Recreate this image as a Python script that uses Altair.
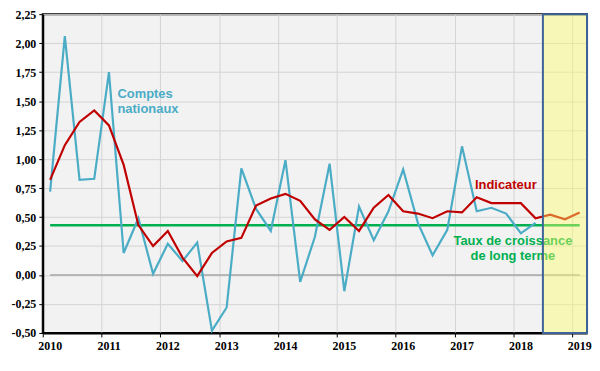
import altair as alt
import pandas as pd

# ---- data -------------------------------------------------------------
years = list(range(2010, 2020))
comptes = [0.72, 2.06, 0.82, 0.83,
           1.75, 0.19, 0.49, 0.01,
           0.27, 0.12, 0.28, -0.48,
           -0.28, 0.92, 0.57, 0.38,
           0.99, -0.06, 0.33, 0.96,
           -0.14, 0.59, 0.30, 0.55,
           0.91, 0.45, 0.17, 0.39,
           1.11, 0.55, 0.58, 0.53,
           0.36, 0.45]
indicateur = [0.82, 1.12, 1.32, 1.42,
              1.29, 0.95, 0.43, 0.25,
              0.38, 0.15, -0.01, 0.19,
              0.29, 0.32, 0.60, 0.66,
              0.70, 0.64, 0.48, 0.39,
              0.50, 0.38, 0.58, 0.69,
              0.55, 0.53, 0.49, 0.55,
              0.54, 0.67, 0.62, 0.62,
              0.62, 0.49, 0.52, 0.48,
              0.54]
long_terme = 0.43
prevision_debut = 2018.5
prevision_fin = 2019.25
y_ticks = [-0.5, -0.25, 0, 0.25, 0.5, 0.75, 1.0, 1.25, 1.5, 1.75, 2.0, 2.25]

annot_labels = ["Comptes", "nationaux", "Indicateur",
                "Taux de croissance", "de long terme"]
annot_t = [2011.27, 2011.27, 2017.87, 2017.99, 2017.99]
annot_v = [1.56, 1.43, 0.78, 0.296, 0.164]
annot_colors = ["#4BACC6", "#4BACC6", "#C00000", "#00B050", "#00B050"]
annot_align = ["left", "left", "center", "center", "center"]


def quarter_time(i):
    return 2010 + (i + 0.5) / 4


df_c = pd.DataFrame({"t": [quarter_time(i) for i in range(len(comptes))],
                     "v": comptes})
df_i = pd.DataFrame({"t": [quarter_time(i) for i in range(len(indicateur))],
                     "v": indicateur})
t_first = quarter_time(0)
t_last = quarter_time(len(indicateur) - 1)
df_lt = pd.DataFrame({"t0": [t_first], "t1": [t_last], "v": [long_terme]})
df_zero = pd.DataFrame({"t0": [t_first], "t1": [t_last], "v": [0.0]})
df_fc = pd.DataFrame({"a": [prevision_debut], "b": [prevision_fin],
                      "lo": [y_ticks[0]], "hi": [y_ticks[-1]]})
df_txt = pd.DataFrame({"t": annot_t, "v": annot_v, "label": annot_labels,
                       "color": annot_colors, "align": annot_align})

# ---- scales & axes ----------------------------------------------------
xs = alt.Scale(domain=[2010, prevision_fin], nice=False, zero=False)
ys = alt.Scale(domain=[y_ticks[0], y_ticks[-1]], nice=False, zero=False)

xaxis = alt.Axis(values=years, format="d", title=None, grid=True,
                 gridColor="#D4D4D4", gridWidth=1,
                 domainColor="black", domainWidth=2,
                 tickColor="black", tickSize=4,
                 labelFont="Liberation Serif", labelFontSize=12,
                 labelFontWeight="bold", labelColor="black",
                 labelOffset=7, labelPadding=4, labelFlush=False,
                 labelOverlap=False)
yaxis = alt.Axis(values=y_ticks, title=None, grid=True,
                 labelExpr="replace(replace(format(datum.value, '.2f'), '.', ','), '\u2212', '-')",
                 gridColor="#D4D4D4", gridWidth=1,
                 domainColor="black", domainWidth=2,
                 tickColor="black", tickSize=4,
                 labelFont="Liberation Serif", labelFontSize=12,
                 labelFontWeight="bold", labelColor="black",
                 labelPadding=3, labelOverlap=False)

X = lambda f: alt.X(f, scale=xs, axis=xaxis)
Y = lambda f: alt.Y(f, scale=ys, axis=yaxis)

zero = alt.Chart(df_zero).mark_rule(color="#A6A6A6", strokeWidth=1.5).encode(
    x=X("t0:Q"), x2="t1:Q", y=Y("v:Q"))
lt = alt.Chart(df_lt).mark_rule(color="#00B050", strokeWidth=2.5).encode(
    x=X("t0:Q"), x2="t1:Q", y=Y("v:Q"))
blue = alt.Chart(df_c).mark_line(color="#4BACC6", strokeWidth=2.2).encode(
    x=X("t:Q"), y=Y("v:Q"))
red = alt.Chart(df_i).mark_line(color="#C00000", strokeWidth=2.2).encode(
    x=X("t:Q"), y=Y("v:Q"))

txt_left = alt.Chart(df_txt[df_txt["align"] == "left"]).mark_text(
    font="Liberation Sans", fontSize=13, fontWeight="bold",
    align="left", baseline="middle").encode(
    x=X("t:Q"), y=Y("v:Q"), text="label:N",
    color=alt.Color("color:N", scale=None))
txt_center = alt.Chart(df_txt[df_txt["align"] == "center"]).mark_text(
    font="Liberation Sans", fontSize=13, fontWeight="bold",
    align="center", baseline="middle").encode(
    x=X("t:Q"), y=Y("v:Q"), text="label:N",
    color=alt.Color("color:N", scale=None))

fc_fill = alt.Chart(df_fc).mark_rect(color="#FFFF66", opacity=0.42).encode(
    x=X("a:Q"), x2="b:Q", y=Y("lo:Q"), y2="hi:Q")
fc_border = alt.Chart(df_fc).mark_rect(fill=None, fillOpacity=0,
                                       stroke="#3C6496", strokeWidth=2).encode(
    x=X("a:Q"), x2="b:Q", y=Y("lo:Q"), y2="hi:Q")

chart = alt.layer(zero, lt, blue, red, txt_left, txt_center,
                  fc_fill, fc_border).properties(
    width=548, height=321,
    autosize=alt.AutoSizeParams(type="none"),
    padding={"left": 35, "top": 5, "right": 5, "bottom": 25},
    background="white",
).configure_view(fill="#F2F2F2", stroke="black", strokeWidth=2)

chart.save("out.html", embed_options={"renderer": "svg", "actions": False})
